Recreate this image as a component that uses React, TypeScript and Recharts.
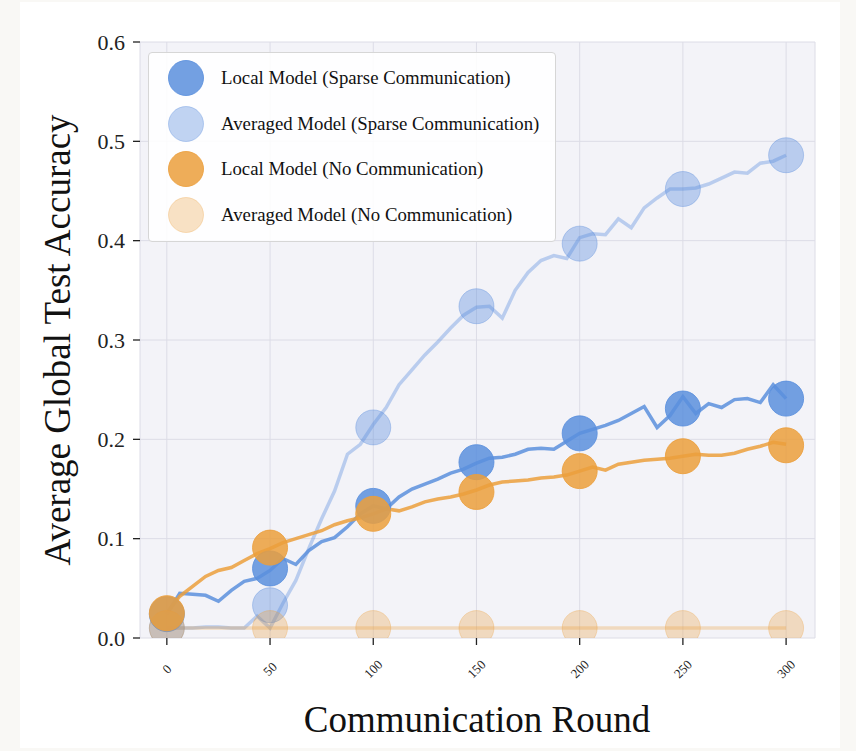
import React from 'react';
import { ComposedChart, Line, Scatter, XAxis, YAxis, CartesianGrid, Label } from 'recharts';

// evaluation rounds (every 6.25 rounds)
const rounds = [
  0, 6.25, 12.5, 18.75, 25, 31.25, 37.5, 43.75, 50, 56.25, 62.5, 68.75, 75, 81.25, 87.5, 93.75,
  100, 106.25, 112.5, 118.75, 125, 131.25, 137.5, 143.75, 150, 156.25, 162.5, 168.75, 175, 181.25,
  187.5, 193.75, 200, 206.25, 212.5, 218.75, 225, 231.25, 237.5, 243.75, 250, 256.25, 262.5, 268.75,
  275, 281.25, 287.5, 293.75, 300,
];

const localSparse = [
  0.024, 0.045, 0.044, 0.043, 0.037, 0.048, 0.057, 0.06, 0.068, 0.08,
  0.074, 0.088, 0.097, 0.101, 0.112, 0.125, 0.133, 0.13, 0.142, 0.15,
  0.155, 0.16, 0.166, 0.17, 0.176, 0.181, 0.182, 0.185, 0.19, 0.191,
  0.19, 0.198, 0.206, 0.21, 0.214, 0.219, 0.226, 0.233, 0.212, 0.224,
  0.243, 0.226, 0.236, 0.232, 0.24, 0.241, 0.237, 0.255, 0.241,
];

const avgSparse = [
  0.01, 0.01, 0.01, 0.011, 0.011, 0.01, 0.01, 0.022, 0.01,
  0.035, 0.058, 0.09, 0.12, 0.148, 0.185, 0.195, 0.215,
  0.232, 0.255, 0.27, 0.285, 0.298, 0.312, 0.325, 0.333,
  0.334, 0.322, 0.35, 0.368, 0.38, 0.385, 0.382, 0.403,
  0.407, 0.406, 0.422, 0.413, 0.433, 0.443, 0.452, 0.452,
  0.453, 0.457, 0.463, 0.469, 0.468, 0.478, 0.48, 0.486,
];

const localNoComm = [
  0.025, 0.042, 0.052, 0.062, 0.068, 0.071, 0.078, 0.085, 0.09, 0.096,
  0.1, 0.104, 0.108, 0.114, 0.118, 0.121, 0.125, 0.13, 0.128, 0.132,
  0.137, 0.14, 0.142, 0.145, 0.149, 0.154, 0.157, 0.158, 0.159, 0.161,
  0.162, 0.164, 0.168, 0.172, 0.169, 0.175, 0.177, 0.179, 0.18, 0.181,
  0.183, 0.185, 0.184, 0.184, 0.186, 0.19, 0.193, 0.197, 0.195,
];

const avgNoComm = [
  0.01, 0.01, 0.01, 0.01, 0.01, 0.01, 0.01, 0.01, 0.01, 0.01,
  0.01, 0.01, 0.01, 0.01, 0.01, 0.01, 0.01, 0.01, 0.01, 0.01,
  0.01, 0.01, 0.01, 0.01, 0.01, 0.01, 0.01, 0.01, 0.01, 0.01,
  0.01, 0.01, 0.01, 0.01, 0.01, 0.01, 0.01, 0.01, 0.01, 0.01,
  0.01, 0.01, 0.01, 0.01, 0.01, 0.01, 0.01, 0.01, 0.01,
];

// big circle markers every 50 rounds
const markerRounds = [0, 50, 100, 150, 200, 250, 300];
const localSparseMarks = [0.024, 0.07, 0.133, 0.177, 0.206, 0.231, 0.241];
const avgSparseMarks = [0.01, 0.033, 0.212, 0.334, 0.397, 0.452, 0.486];
const localNoCommMarks = [0.025, 0.091, 0.125, 0.147, 0.168, 0.183, 0.194];
const avgNoCommMarks = [0.01, 0.01, 0.01, 0.01, 0.01, 0.01, 0.01];

const xTicks = [0, 50, 100, 150, 200, 250, 300];
const yTicks = [0, 0.1, 0.2, 0.3, 0.4, 0.5, 0.6];

const legendLabels = [
  'Local Model (Sparse Communication)',
  'Averaged Model (Sparse Communication)',
  'Local Model (No Communication)',
  'Averaged Model (No Communication)',
];

const BLUE = '#5b8fdd';
const ORANGE = '#eb9f3c';
const FONT = '"Liberation Serif", "Times New Roman", serif';

const series = [
  { key: 'localSparse', color: BLUE, opacity: 0.85, marks: localSparseMarks },
  { key: 'avgSparse', color: BLUE, opacity: 0.38, marks: avgSparseMarks },
  { key: 'localNoComm', color: ORANGE, opacity: 0.85, marks: localNoCommMarks },
  { key: 'avgNoComm', color: ORANGE, opacity: 0.3, marks: avgNoCommMarks },
];

const lineData = rounds.map((round, i) => ({
  round,
  localSparse: localSparse[i],
  avgSparse: avgSparse[i],
  localNoComm: localNoComm[i],
  avgNoComm: avgNoComm[i],
}));

const markerShape = (color: string, opacity: number) => (props: any) => (
  <circle
    cx={props.cx}
    cy={props.cy}
    r={17.5}
    fill={color}
    fillOpacity={opacity}
    stroke={color}
    strokeOpacity={opacity}
    strokeWidth={1}
  />
);

const XTick = ({ x, y, payload }: any) => (
  <text
    x={x}
    y={y + 22}
    transform={`rotate(-45 ${x} ${y + 22})`}
    textAnchor="middle"
    dominantBaseline="central"
    fontSize={13}
    fontFamily={FONT}
    fill="#222"
  >
    {payload.value}
  </text>
);

function ChartLegend() {
  return (
    <div
      style={{
        position: 'absolute',
        left: 148,
        top: 52,
        width: 408,
        height: 190,
        background: 'rgba(255,255,255,0.88)',
        border: '1px solid #d6d6d6',
        borderRadius: 4,
        boxSizing: 'border-box',
        fontFamily: FONT,
      }}
    >
      {legendLabels.map((label, i) => (
        <div
          key={label}
          style={{ position: 'absolute', left: 0, top: 8 + i * 45.6, height: 34, display: 'flex', alignItems: 'center' }}
        >
          <svg width={72} height={38} style={{ display: 'block' }}>
            <circle
              cx={37}
              cy={19}
              r={17.5}
              fill={series[i].color}
              fillOpacity={series[i].opacity}
              stroke={series[i].color}
              strokeOpacity={series[i].opacity}
            />
          </svg>
          <span style={{ fontSize: 18.8, color: '#111', whiteSpace: 'nowrap' }}>{label}</span>
        </div>
      ))}
    </div>
  );
}

export default function App() {
  return (
    <div style={{ position: 'absolute', left: 0, top: 0, width: 856, height: 751, background: '#f9f8f5', overflow: 'hidden' }}>
      <div style={{ position: 'absolute', left: 20, top: 2, width: 820, height: 746, background: '#ffffff' }} />
      <div style={{ position: 'absolute', left: 0, top: 0 }}>
        <ComposedChart width={856} height={751} data={lineData} margin={{ top: 42, right: 41, bottom: 0, left: 0 }}>
          <CartesianGrid fill="#f3f3f8" stroke="#dcdce6" strokeWidth={1} />
          <XAxis
            dataKey="round"
            type="number"
            domain={[-13, 314]}
            ticks={xTicks}
            height={113}
            axisLine={false}
            tickSize={7}
            tickMargin={2}
            tickLine={{ stroke: '#222', strokeWidth: 1.3 }}
            tick={<XTick />}
            interval={0}
          >
            <Label
              content={() => (
                <text x={477} y={732} textAnchor="middle" fontSize={37} fontFamily={FONT} fill="#111">
                  Communication Round
                </text>
              )}
            />
          </XAxis>
          <YAxis
            type="number"
            domain={[0, 0.6]}
            ticks={yTicks}
            allowDataOverflow
            width={140}
            axisLine={false}
            tickSize={7}
            tickMargin={8}
            tickLine={{ stroke: '#222', strokeWidth: 1.3 }}
            tick={{ fontSize: 22, fontFamily: FONT, fill: '#222' }}
            tickFormatter={(v: number) => v.toFixed(1)}
          >
            <Label
              content={() => (
                <text
                  x={57}
                  y={340}
                  transform="rotate(-90 57 340)"
                  textAnchor="middle"
                  dominantBaseline="central"
                  fontSize={37}
                  fontFamily={FONT}
                  fill="#111"
                >
                  Average Global Test Accuracy
                </text>
              )}
            />
          </YAxis>
          {series.flatMap((s) => [
            <Line
              key={s.key + '-line'}
              dataKey={s.key}
              type="linear"
              stroke={s.color}
              strokeOpacity={s.opacity}
              strokeWidth={3.5}
              dot={false}
              activeDot={false}
              isAnimationActive={false}
            />,
            <Scatter
              key={s.key + '-marks'}
              data={markerRounds.map((round, i) => ({ round, value: s.marks[i] }))}
              dataKey="value"
              shape={markerShape(s.color, s.opacity)}
              isAnimationActive={false}
            />,
          ])}
        </ComposedChart>
      </div>
      <ChartLegend />
    </div>
  );
}
